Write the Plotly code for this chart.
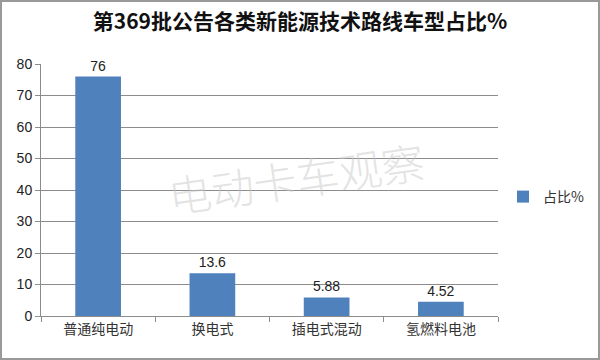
import plotly.graph_objects as go

categories = ["普通纯电动", "换电式", "插电式混动", "氢燃料电池"]
values = [76, 13.6, 5.88, 4.52]
labels = ["76", "13.6", "5.88", "4.52"]
series_name = "占比%"
title = "第369批公告各类新能源技术路线车型占比%"

W, H = 600, 360
L, R, T, B = 41, 102, 64, 44
pw, ph = W - L - R, H - T - B

def px_x(x):
    return (x - L) / pw

def px_y(y):
    return (H - B - y) / ph

fig = go.Figure()
fig.add_trace(go.Bar(
    x=categories, y=values, name=series_name,
    marker=dict(color="#4f81bd", line=dict(width=0)),
    text=labels, textposition="outside",
    textfont=dict(family="Liberation Sans, Noto Sans CJK SC", size=14, color="#222"),
    cliponaxis=False,
))

fig.update_layout(
    width=W, height=H,
    margin=dict(l=L, r=R, t=T, b=B, autoexpand=False),
    paper_bgcolor="white", plot_bgcolor="white",
    bargap=0.6,
    showlegend=True,
    legend=dict(x=px_x(503), y=px_y(197), xanchor="left", yanchor="middle",
                font=dict(family="Noto Sans CJK SC", size=14, color="#333"),
                itemwidth=30, bgcolor="rgba(0,0,0,0)"),
    title=dict(text=title, x=300 / W, xref="container", y=1 - 22 / H, yanchor="middle",
               xanchor="center",
               font=dict(family="Noto Sans CJK SC", size=21, color="#111", weight="bold")),
    font=dict(family="Noto Sans CJK SC"),
)

fig.update_yaxes(range=[0, 80], dtick=10, showgrid=True, gridcolor="#8c8c8c", gridwidth=1,
                 showline=True, linecolor="#8c8c8c", linewidth=1, automargin=False,
                 ticks="outside", ticklen=5, tickcolor="#8c8c8c",
                 tickfont=dict(family="Liberation Sans", size=14, color="#222"),
                 zeroline=False, fixedrange=True)
fig.update_xaxes(showline=True, linecolor="#8c8c8c", linewidth=1, automargin=False,
                 ticks="outside", ticklen=5, tickcolor="#8c8c8c", tickson="boundaries",
                 tickfont=dict(family="Noto Sans CJK SC", size=14, color="#333"),
                 fixedrange=True)

fig.add_annotation(text="电动卡车观察", xref="paper", yref="paper",
                   x=px_x(296), y=px_y(177), showarrow=False, textangle=-8,
                   font=dict(family="Noto Sans CJK SC", size=43, color="rgba(200,200,200,0.5)",
                             weight=300))

fig.add_shape(type="rect", xref="paper", yref="paper",
              x0=px_x(1), x1=px_x(599), y0=px_y(359), y1=px_y(1),
              line=dict(color="#999", width=2), fillcolor="rgba(0,0,0,0)", layer="below")

fig.write_html("out.html", config={"displayModeBar": False})

with open("out.html", encoding="utf-8") as f:
    html = f.read()
html = html.replace("<head>", "<head><style>html,body{margin:0;padding:0;overflow:hidden;}</style>", 1)
with open("out.html", "w", encoding="utf-8") as f:
    f.write(html)
